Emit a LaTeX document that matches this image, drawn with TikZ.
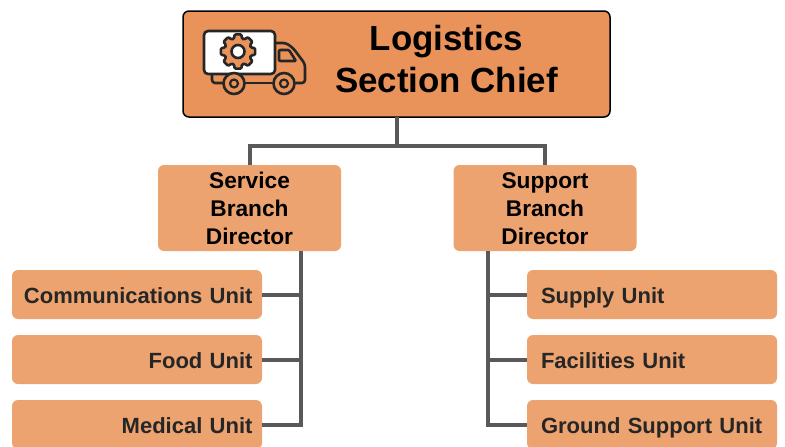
\documentclass[tikz,border=0pt]{standalone}
\usepackage{fontspec}
\setmainfont{Liberation Sans}
\usetikzlibrary{positioning}
\definecolor{chieforange}{HTML}{E9935A}
\definecolor{unitorange}{HTML}{EDA36F}
\definecolor{linkgray}{HTML}{595959}
\definecolor{inkdark}{HTML}{262626}
\tikzset{
  chiefbox/.style={draw=black, line width=1.5pt, fill=chieforange, rounded corners=6pt, inner sep=0pt,
    outer sep=0pt, minimum width=427pt, minimum height=106pt},
  chieftitle/.style={align=center, inner sep=0pt, font=\fontsize{34.9}{42}\selectfont\bfseries},
  branchbox/.style={fill=unitorange, rounded corners=6pt, align=center, text width=183pt, inner sep=0pt,
    outer sep=0pt, minimum height=86pt, font=\fontsize{22.7}{28}\selectfont\bfseries},
  unitbox/.style={fill=unitorange, rounded corners=6pt, text=inkdark, inner ysep=0pt, outer sep=0pt,
    minimum height=49pt, text height=19pt, text depth=2pt, font=\fontsize{22}{27}\selectfont\bfseries},
  leftunit/.style={unitbox, align=right, text width=231pt, inner xsep=9.5pt},
  rightunit/.style={unitbox, align=left, text width=222pt, inner xsep=14pt},
  link/.style={draw=linkgray, line width=4pt},
  truckline/.style={draw=inkdark, line width=2.6pt, line join=round, line cap=round}
}
\begin{document}
\begin{tikzpicture}[x=1pt, y=-1pt]
    \useasboundingbox (0,0) rectangle (785,447);

    \node[chiefbox] (chief) at (396.5,64) {};
    \node[chieftitle] (title) at (446.5,59.5) {Logistics\\Section Chief};
    \coordinate (fork) at (396.5,146);

    \node[branchbox] (service) at (249.5,208) {Service\\Branch\\Director};
    \node[branchbox] (support) at (545,208) {\vphantom{i}Support\\Branch\\Director};

    \node[leftunit] (comm) at (137,294.5) {Communications Unit};
    \node[leftunit, below=16pt of comm] (food) {Food Unit};
    \node[leftunit, below=16pt of food] (medical) {Medical Unit};

    \node[rightunit] (supply) at (652,294.5) {Supply Unit};
    \node[rightunit, below=16pt of supply] (facilities) {Facilities Unit};
    \node[rightunit, below=16pt of facilities] (ground) {Ground Support Unit};

    % connectors
    \draw[link] (chief.south) -- (fork);
    \draw[link] (service.north) |- (fork) -| (support.north);
    \coordinate (servicebar) at ([xshift=51.5pt]service.south);
    \coordinate (supportbar) at ([xshift=-57pt]support.south);
    \draw[link] (servicebar) |- (medical.east);
    \draw[link] (servicebar |- comm.east) -- (comm.east);
    \draw[link] (servicebar |- food.east) -- (food.east);
    \draw[link] (supportbar) |- (ground.west);
    \draw[link] (supportbar |- supply.west) -- (supply.west);
    \draw[link] (supportbar |- facilities.west) -- (facilities.west);

    % truck
    \draw[truckline, rounded corners=3pt] (275,43) -- (286,43) -- (293,48) -- (305,64) -- (305,83) -- (296,83);
    \draw[truckline] (272,83) -- (246,83);
    \draw[truckline, rounded corners=3pt] (212,75) -- (212,83) -- (223,83);
    \draw[truckline, rounded corners=1pt] (279,50) -- (289,50) -- (296,61) -- (279,61) -- cycle;
    \draw[truckline, fill=white, rounded corners=4pt] (204,31) rectangle (275,74);
    \foreach \wx in {234,284} {
      \draw[truckline, fill=chieforange] (\wx,83.5) circle (10.5pt);
      \draw[truckline, line width=2.2pt] (\wx,83.5) circle (4pt);
    }
    \begin{scope}[shift={(238,51.5)}, y=1pt]
      \draw[truckline, fill=chieforange, rounded corners=1.2pt]
        (-11:17.5) \foreach \a in {0,45,...,315} {
          -- (\a-11:17.5) -- (\a+11:17.5) -- (\a+17:13.5) -- (\a+28:13.5)
        } -- cycle;
      \draw[truckline, fill=white] (0,0) circle (6.5pt);
    \end{scope}
\end{tikzpicture}
\end{document}
